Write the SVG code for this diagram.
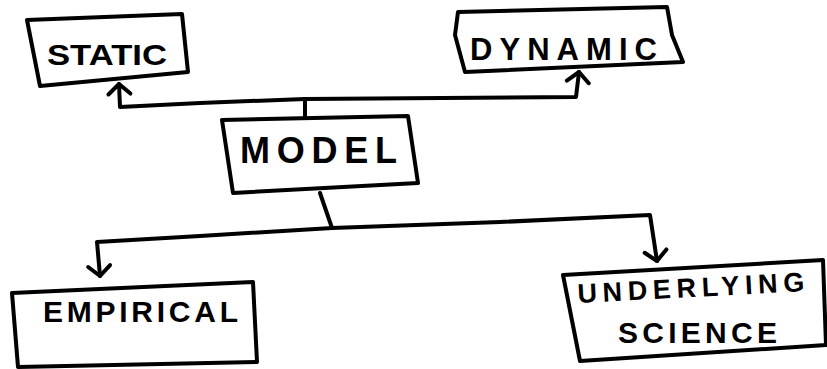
<svg xmlns="http://www.w3.org/2000/svg" width="827" height="369" viewBox="0 0 827 369">
<style>
.box{fill:#fff;stroke:#000;stroke-width:4;stroke-linejoin:round}
.lbl{font-family:"Liberation Sans",Arial,sans-serif;font-weight:bold;fill:#000}
.con{fill:none;stroke:#000;stroke-width:4;stroke-linejoin:round;stroke-linecap:round}
</style>
<defs>
<marker id="arr" viewBox="0 0 16 28" refX="13" refY="14" markerWidth="16" markerHeight="28" markerUnits="userSpaceOnUse" orient="auto">
<path d="M3 3 L13 14 L3 25" fill="none" stroke="#000" stroke-width="4" stroke-linecap="round" stroke-linejoin="round"/>
</marker>
</defs>
<rect width="827" height="369" fill="#fff"/>
<g id="connectors">
<path class="con" d="M305 117 L305 99"/>
<path class="con" d="M305 99 L200 103 L120 107 L119 84" marker-end="url(#arr)"/>
<path class="con" d="M305 99 L576 97 L579 72" marker-end="url(#arr)"/>
<path class="con" d="M320 193 L332 228"/>
<path class="con" d="M332 228 L200 236 L97 242 L100 276" marker-end="url(#arr)"/>
<path class="con" d="M332 228 L500 222 L650 215 L657 261" marker-end="url(#arr)"/>
</g>
<g id="static">
<path class="box" d="M27 20 L182 14 L188 72 L40 86 Z"/>
<text class="lbl" x="47" y="65" font-size="30" textLength="120" lengthAdjust="spacingAndGlyphs">STATIC</text>
</g>
<g id="dynamic">
<path class="box" d="M458 12 L667 7 L672 35 L683 62 L465 72 L455 35 Z"/>
<text class="lbl" x="470" y="60" font-size="31" textLength="187" lengthAdjust="spacing">DYNAMIC</text>
</g>
<g id="model">
<path class="box" d="M222 120 L408 116 L418 183 L233 193 Z"/>
<text class="lbl" x="240" y="163" font-size="36" textLength="157" lengthAdjust="spacing">MODEL</text>
</g>
<g id="empirical">
<path class="box" d="M12 293 L253 282 L257 362 L18 367 Z"/>
<text class="lbl" x="43" y="322" font-size="30" textLength="195" lengthAdjust="spacing">EMPIRICAL</text>
</g>
<g id="underlying">
<path class="box" d="M563 275 L823 260 L826 345 L580 361 Z"/>
<text class="lbl" x="578" y="303" font-size="27" textLength="227" lengthAdjust="spacing" transform="rotate(-3 578 303)">UNDERLYING</text>
<text class="lbl" x="618" y="343" font-size="30" textLength="159" lengthAdjust="spacing">SCIENCE</text>
</g>
</svg>
